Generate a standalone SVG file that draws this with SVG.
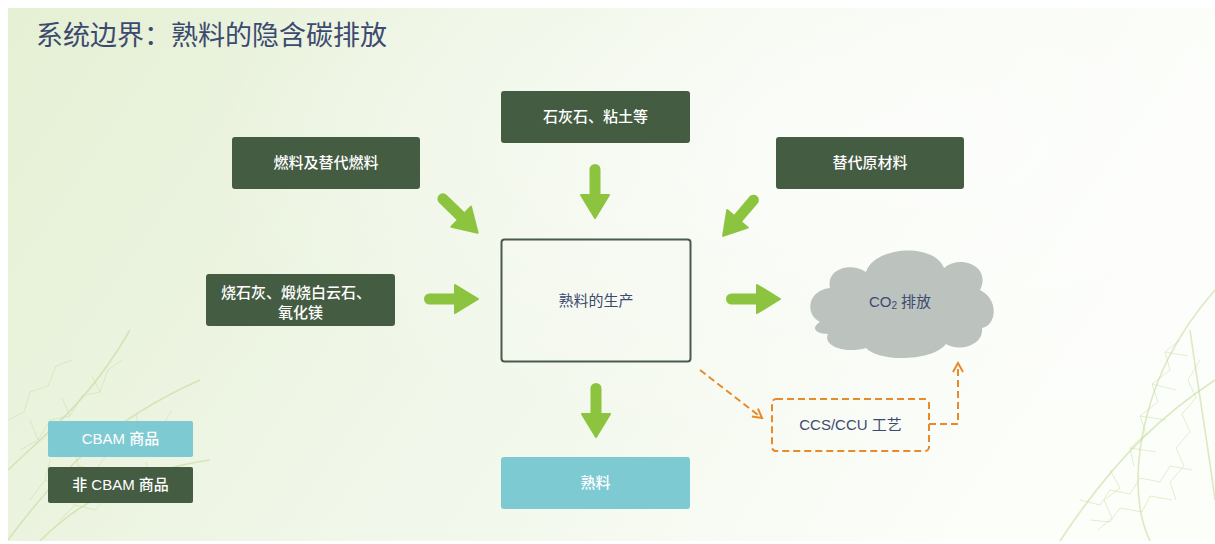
<svg xmlns="http://www.w3.org/2000/svg" width="1215" height="544" viewBox="0 0 1215 544">
  <defs>
    <linearGradient id="bg" x1="0" y1="0" x2="1" y2="0.3">
      <stop offset="0" stop-color="#e5f0d4"/>
      <stop offset="0.55" stop-color="#f1f7ea"/>
      <stop offset="1" stop-color="#fcfefa"/>
    </linearGradient>
    <radialGradient id="glow" cx="0.75" cy="0.25" r="0.6">
      <stop offset="0" stop-color="#ffffff" stop-opacity="0.7"/>
      <stop offset="1" stop-color="#ffffff" stop-opacity="0"/>
    </radialGradient>
    <!-- thick green flow arrow, 54 units long, pointing along +x -->
    <g id="flow">
      <path d="M5.5 0 H34" stroke="#8cc43f" stroke-width="11" stroke-linecap="round" fill="none"/>
      <path d="M31 -14 L54 0 L31 14 Z" fill="#8cc43f" stroke="#8cc43f" stroke-width="2" stroke-linejoin="round"/>
    </g>
    <marker id="chev" viewBox="0 0 12 12" refX="10" refY="6" markerWidth="12" markerHeight="12" markerUnits="userSpaceOnUse" orient="auto">
      <path d="M1 1 L10 6 L1 11" fill="none" stroke="#e8892a" stroke-width="2"/>
    </marker>
  </defs>
  <style>
    .dark { fill: #445c42; }
    .teal { fill: #7ecad3; }
    .lbl { font-family: "Liberation Sans", "Noto Sans CJK SC", sans-serif; font-size: 15px; text-anchor: middle; }
    .w { fill: #ffffff; font-weight: 500; }
    .ink { fill: #3d4a70; }
    .vein { fill: none; stroke: #c6dca2; stroke-width: 0.9; opacity: 0.55; }
    .stem { fill: none; stroke: #c0d994; stroke-width: 1.6; opacity: 0.55; }
    .dash { fill: none; stroke: #e8892a; stroke-width: 2; stroke-dasharray: 7 4; }
  </style>

  <!-- page -->
  <rect x="0" y="0" width="1215" height="544" fill="#ffffff"/>
  <rect x="8" y="8" width="1207" height="533" fill="url(#bg)"/>
  <rect x="8" y="8" width="1207" height="533" fill="url(#glow)"/>

  <!-- leaf vein decoration, lower left -->
  <g id="veins-left">
    <path class="stem" d="M8 540 C60 470 110 420 200 380"/>
    <path class="stem" d="M8 470 C50 430 90 400 130 330"/>
    <path class="stem" d="M40 541 C80 500 140 470 210 460"/>
    <path class="vein" d="M30 500 L45 480 L62 488 L78 466 L96 470 L110 450 L128 452 L140 432 L160 430 L172 410"/>
    <path class="vein" d="M20 450 L38 440 L50 420 L70 416 L82 396 L100 392 L108 370 L122 360"/>
    <path class="vein" d="M60 520 L75 505 L95 510 L112 492 L130 496 L150 480 L170 482 L185 468"/>
    <path class="vein" d="M45 480 L50 460 M78 466 L74 446 M110 450 L104 432 M140 432 L136 414"/>
    <path class="vein" d="M75 505 L70 486 M112 492 L108 472 M150 480 L146 462"/>
    <path class="vein" d="M8 420 L24 412 L30 392 L48 386 L56 366 L72 360"/>
    <path class="vein" d="M38 440 L30 420 M70 416 L62 398 M100 392 L92 376"/>
  </g>

  <!-- leaf vein decoration, lower right -->
  <g id="veins-right">
    <path class="stem" d="M1215 290 C1180 330 1150 380 1140 450 C1135 490 1140 520 1150 541"/>
    <path class="stem" d="M1215 380 C1170 410 1120 450 1060 541"/>
    <path class="stem" d="M1190 330 C1200 400 1210 460 1215 500"/>
    <path class="vein" d="M1180 340 L1165 352 L1170 370 L1152 384 L1158 402 L1140 416 L1146 434 L1130 448 L1134 466"/>
    <path class="vein" d="M1200 360 L1188 380 L1196 398 L1182 414 L1190 432 L1176 448 L1184 466 L1170 482 L1176 500"/>
    <path class="vein" d="M1110 470 L1120 488 L1104 500 L1112 518 L1098 530"/>
    <path class="vein" d="M1165 352 L1188 356 M1152 384 L1176 390 M1140 416 L1166 420 M1130 448 L1156 452"/>
    <path class="vein" d="M1080 500 L1100 505 L1110 490 L1130 494 L1140 478 L1160 482 L1170 466 L1192 470"/>
    <path class="vein" d="M1090 520 L1110 522 L1120 508 L1142 512 L1150 496 L1172 500"/>
  </g>

  <!-- title -->
  <text x="36" y="45" font-family="Noto Sans CJK SC, Liberation Sans, sans-serif" font-size="27" fill="#3d4a70">系统边界：熟料的隐含碳排放</text>

  <!-- input nodes -->
  <g id="n-limestone">
    <rect class="dark" x="501" y="91" width="189" height="52" rx="3"/>
    <text class="lbl w" x="595.5" y="122">石灰石、粘土等</text>
  </g>
  <g id="n-fuel">
    <rect class="dark" x="232" y="137" width="188" height="52" rx="3"/>
    <text class="lbl w" x="326" y="168">燃料及替代燃料</text>
  </g>
  <g id="n-altraw">
    <rect class="dark" x="776" y="137" width="188" height="52" rx="3"/>
    <text class="lbl w" x="870" y="168">替代原材料</text>
  </g>
  <g id="n-lime">
    <rect class="dark" x="206" y="274" width="189" height="52" rx="3"/>
    <text class="lbl w" x="296" y="298">烧石灰、煅烧白云石、</text>
    <text class="lbl w" x="300.5" y="318">氧化镁</text>
  </g>

  <!-- process node -->
  <g id="n-production">
    <rect x="501.5" y="239.5" width="189" height="122" rx="3" fill="#f6faf1" fill-opacity="0.5" stroke="#4a5a4c" stroke-width="2"/>
    <text class="lbl ink" x="596" y="306">熟料的生产</text>
  </g>

  <!-- product node -->
  <g id="n-clinker">
    <rect class="teal" x="501" y="457" width="189" height="52" rx="3"/>
    <text class="lbl w" x="595.5" y="488">熟料</text>
  </g>

  <!-- emissions cloud -->
  <g id="n-co2">
    <path fill="#bcc3bf" d="M820 322 C804 314 808 290 830 288 C826 268 852 262 866 272 C874 246 934 242 944 268 C960 254 992 266 980 290 C1000 300 996 326 982 328 C984 346 958 352 946 344 C932 362 878 362 866 348 C846 354 822 346 828 334 C816 334 810 328 820 322 Z"/>
    <text class="lbl ink" x="900" y="307">CO<tspan font-size="10" dy="2">2</tspan><tspan dy="-2"> 排放</tspan></text>
  </g>

  <!-- capture process -->
  <g id="n-ccs">
    <rect class="dash" x="772" y="399" width="157" height="52" rx="4"/>
    <text class="lbl ink" x="850.5" y="430" fill="#4a5878">CCS/CCU 工艺</text>
  </g>

  <!-- legend -->
  <g id="legend-cbam">
    <rect class="teal" x="48" y="421" width="145" height="36" rx="2"/>
    <text class="lbl w" x="120.5" y="444">CBAM 商品</text>
  </g>
  <g id="legend-noncbam">
    <rect class="dark" x="48" y="467" width="145" height="36" rx="2"/>
    <text class="lbl w" x="120.5" y="490">非 CBAM 商品</text>
  </g>

  <!-- connectors -->
  <g id="connectors">
    <use href="#flow" transform="translate(595,164) rotate(90)"/>
    <use href="#flow" transform="translate(439,195) rotate(44.3)"/>
    <use href="#flow" transform="translate(757,196) rotate(130.4) scale(0.97)"/>
    <use href="#flow" transform="translate(424,299)"/>
    <use href="#flow" transform="translate(726,299)"/>
    <use href="#flow" transform="translate(596,383) rotate(90)"/>
    <path class="dash" d="M700 370 L762 418" marker-end="url(#chev)"/>
    <path class="dash" d="M929 424 H958 V363" marker-end="url(#chev)"/>
  </g>
</svg>
